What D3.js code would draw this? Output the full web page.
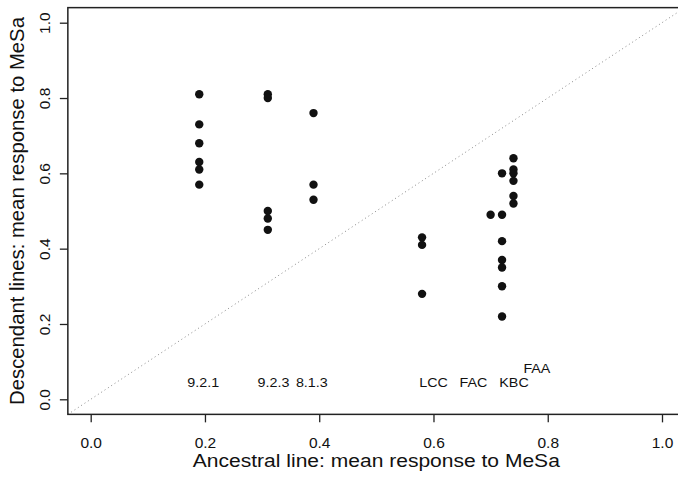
<!DOCTYPE html>
<html>
<head>
<meta charset="utf-8">
<script src="https://cdn.jsdelivr.net/npm/d3@7"></script>
<style>
  html, body { margin: 0; padding: 0; background: #fff; }
  svg { display: block; font-family: "Liberation Sans", Arial, Helvetica, sans-serif; }
</style>
</head>
<body>
<svg id="chart" width="678" height="477"></svg>
<script>
// ---- data ----
const groupNames = ["9.2.1", "9.2.3", "8.1.3", "LCC", "FAC", "KBC", "FAA"];
const ancestral  = [0.19, 0.31, 0.39, 0.58, 0.70, 0.72, 0.74];
const descendant = [
  [0.81, 0.73, 0.68, 0.63, 0.61, 0.57],
  [0.81, 0.80, 0.50, 0.48, 0.45],
  [0.76, 0.57, 0.53],
  [0.43, 0.41, 0.28],
  [0.49],
  [0.60, 0.49, 0.42, 0.37, 0.35, 0.30, 0.22],
  [0.64, 0.61, 0.60, 0.58, 0.54, 0.52]
];
const labelX = [0.197, 0.320, 0.387, 0.600, 0.670, 0.741, 0.781];
const labelY = [0.045, 0.045, 0.045, 0.045, 0.045, 0.045, 0.083];
const tickValues = [0, 0.2, 0.4, 0.6, 0.8, 1.0];
const xTitle = "Ancestral line: mean response to MeSa";
const yTitle = "Descendant lines: mean response to MeSa";

// ---- layout ----
const svg = d3.select("#chart");
const x = d3.scaleLinear().domain([0, 1]).range([90.7, 662]);
const y = d3.scaleLinear().domain([0, 1]).range([399.3, 22.7]);
const xmin = x(-0.04), xmax = x(1.04), ymin = y(-0.04), ymax = y(1.04);

svg.append("defs").append("clipPath").attr("id", "plotclip")
  .append("rect").attr("x", xmin).attr("y", ymax)
  .attr("width", xmax - xmin).attr("height", ymin - ymax);

// diagonal dotted line y = x
svg.append("line")
  .attr("clip-path", "url(#plotclip)")
  .attr("x1", x(-0.04)).attr("y1", y(-0.04))
  .attr("x2", x(1.04)).attr("y2", y(1.04))
  .attr("stroke", "#888").attr("stroke-width", 1)
  .attr("stroke-dasharray", "1,3");

// points
const pts = [];
descendant.forEach((vals, i) => vals.forEach(v => pts.push({x: ancestral[i], y: v})));
svg.append("g").selectAll("circle").data(pts).join("circle")
  .attr("cx", d => x(d.x)).attr("cy", d => y(d.y)).attr("r", 4.2)
  .attr("fill", "#111");

// group labels
svg.append("g").selectAll("text").data(groupNames).join("text")
  .attr("transform", (d, i) => `translate(${x(labelX[i])},${y(labelY[i])}) scale(1.1,1)`)
  .attr("dy", "0.35em")
  .attr("text-anchor", "middle")
  .attr("font-size", 13).attr("fill", "#111")
  .text(d => d);

// box (right edge falls off canvas)
svg.append("rect")
  .attr("x", xmin).attr("y", ymax)
  .attr("width", xmax - xmin).attr("height", ymin - ymax)
  .attr("fill", "none").attr("stroke", "#222").attr("stroke-width", 1.5);

// x axis
const xAxis = d3.axisBottom(x).tickValues(tickValues).tickFormat(d3.format(".1f"))
  .tickSize(8);
const gx = svg.append("g").attr("transform", `translate(0,${ymin})`).call(xAxis);
gx.select(".domain").remove();
gx.selectAll("line").attr("stroke", "#222").attr("stroke-width", 1.3);
gx.selectAll("text").attr("font-size", 15.5).attr("fill", "#111")
  .attr("font-family", "Liberation Sans, Arial, sans-serif")
  .attr("y", 0).attr("dy", null)
  .attr("transform", "translate(0,34)");

// y axis
const yAxis = d3.axisLeft(y).tickValues(tickValues).tickFormat(d3.format(".1f"))
  .tickSize(8);
const gy = svg.append("g").attr("transform", `translate(${xmin},0)`).call(yAxis);
gy.select(".domain").remove();
gy.selectAll("line").attr("stroke", "#222").attr("stroke-width", 1.3);
gy.selectAll("text").attr("font-size", 15.5).attr("fill", "#111")
  .attr("font-family", "Liberation Sans, Arial, sans-serif")
  .attr("x", 0).attr("dy", null)
  .attr("text-anchor", "middle")
  .attr("transform", `translate(${50 - xmin},0) rotate(-90)`);

// axis titles
svg.append("text")
  .attr("x", (xmin + xmax) / 2).attr("y", 467)
  .attr("text-anchor", "middle").attr("font-size", 17.5).attr("fill", "#111")
  .attr("textLength", 367).attr("lengthAdjust", "spacingAndGlyphs")
  .text(xTitle);

svg.append("text")
  .attr("transform", `translate(24,${(ymin + ymax) / 2}) rotate(-90)`)
  .attr("text-anchor", "middle").attr("font-size", 20.3).attr("fill", "#111")
  .text(yTitle);
</script>
</body>
</html>
